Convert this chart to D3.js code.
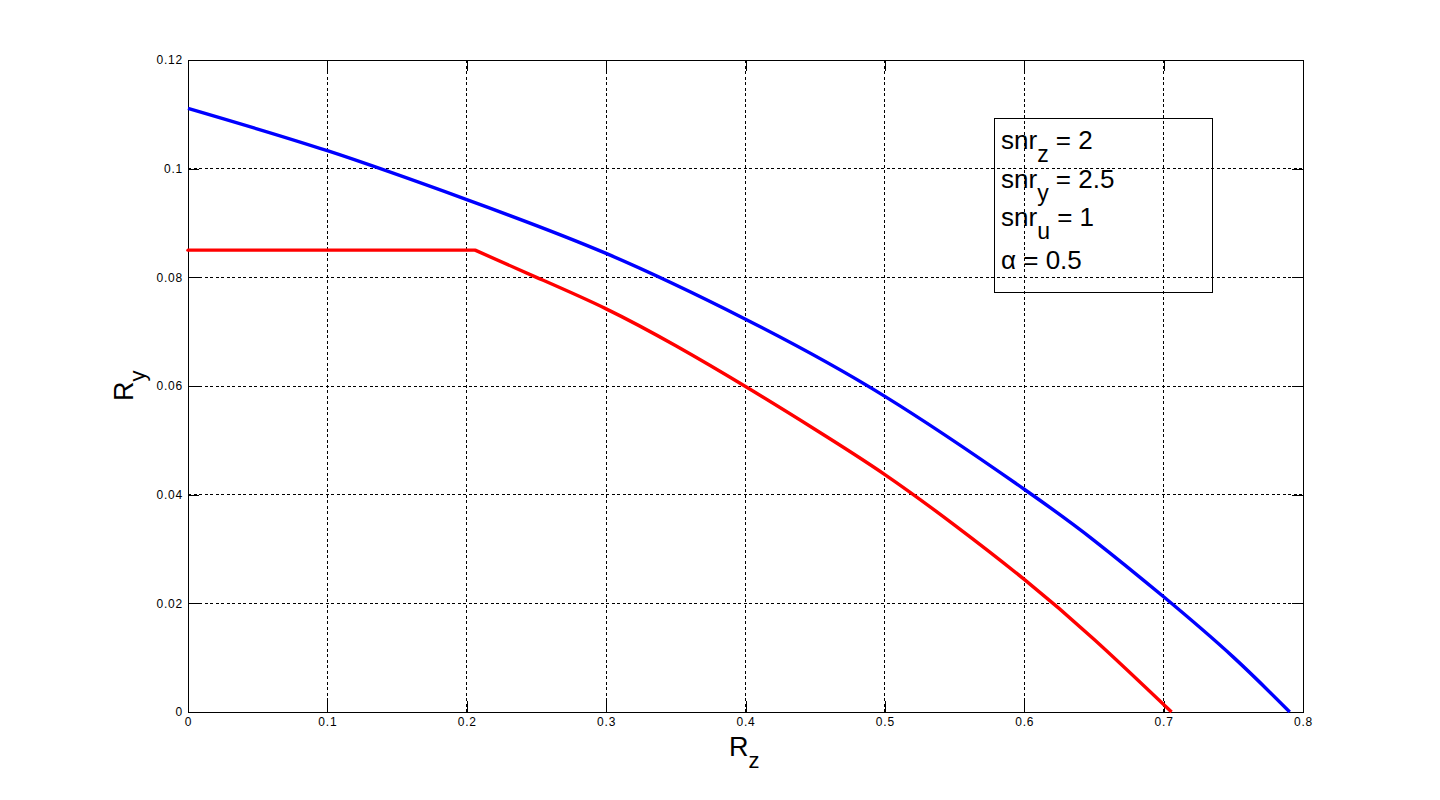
<!DOCTYPE html>
<html>
<head>
<meta charset="utf-8">
<script src="https://cdn.jsdelivr.net/npm/d3@7/dist/d3.min.js"></script>
<style>
  html, body { margin: 0; padding: 0; background: #ffffff; }
  svg { display: block; }
  text { font-family: Arial, "Liberation Sans", sans-serif; fill: #000; }
</style>
</head>
<body>
<svg id="chart" width="1440" height="800"></svg>
<script>
// ---- data ----
const blueRz = [0, 0.1, 0.2, 0.3, 0.4, 0.5, 0.6, 0.65, 0.7, 0.75, 0.7905];
const blueRy = [0.1111, 0.1033, 0.0943, 0.0844, 0.0723, 0.0581, 0.0410, 0.0316, 0.0212, 0.0101, 0];

// red: flat part then curved part starting at the kink
const redFlatRz = [0, 0.206];
const redFlatRy = [0.085, 0.085];
const redRz = [0.206, 0.25, 0.3, 0.35, 0.4, 0.45, 0.5, 0.55, 0.6, 0.65, 0.7057];
const redRy = [0.085, 0.0800, 0.0742, 0.0674, 0.0599, 0.0520, 0.0437, 0.0344, 0.0244, 0.0134, 0];

const xTicks = [0, 0.1, 0.2, 0.3, 0.4, 0.5, 0.6, 0.7, 0.8];
const xTickLabels = ["0", "0.1", "0.2", "0.3", "0.4", "0.5", "0.6", "0.7", "0.8"];
const yTicks = [0, 0.02, 0.04, 0.06, 0.08, 0.1, 0.12];
const yTickLabels = ["0", "0.02", "0.04", "0.06", "0.08", "0.1", "0.12"];

const legendLines = [
  { main: "snr", sub: "z", rest: " = 2" },
  { main: "snr", sub: "y", rest: " = 2.5" },
  { main: "snr", sub: "u", rest: " = 1" },
  { main: "\u03B1 = 0.5", sub: "", rest: "" }
];

// ---- layout ----
const L = 188, R = 1303, T = 60, B = 712;
const svg = d3.select("#chart");
const x = d3.scaleLinear().domain([0, 0.8]).range([L, R]);
const y = d3.scaleLinear().domain([0, 0.12]).range([B, T]);

// grid
const grid = svg.append("g");
grid.selectAll("line.gx").data(xTicks.slice(1, -1)).enter().append("line")
  .attr("x1", d => x(d)).attr("x2", d => x(d)).attr("y1", T).attr("y2", B)
  .attr("stroke", "#000").attr("stroke-width", 1).attr("stroke-dasharray", "3,2.5")
  .attr("shape-rendering", "crispEdges");
grid.selectAll("line.gy").data(yTicks.slice(1, -1)).enter().append("line")
  .attr("y1", d => y(d)).attr("y2", d => y(d)).attr("x1", L).attr("x2", R)
  .attr("stroke", "#000").attr("stroke-width", 1).attr("stroke-dasharray", "3,2.5")
  .attr("shape-rendering", "crispEdges");

// axes (MATLAB style: inward ticks on all sides)
const tickLen = 11;
const xAxisB = d3.axisBottom(x).tickValues(xTicks).tickSize(-tickLen).tickPadding(5)
  .tickFormat((d, i) => xTickLabels[i]);
const xAxisT = d3.axisTop(x).tickValues(xTicks).tickSize(-tickLen).tickFormat("");
const yAxisL = d3.axisLeft(y).tickValues(yTicks).tickSize(-tickLen).tickPadding(5)
  .tickFormat((d, i) => yTickLabels[i]);
const yAxisR = d3.axisRight(y).tickValues(yTicks).tickSize(-tickLen).tickFormat("");

function styleAxis(g) {
  g.select(".domain").remove();
  g.selectAll(".tick line").attr("stroke", "#000").attr("shape-rendering", "crispEdges");
  g.selectAll(".tick text").attr("fill", "#000")
    .style("font-family", "Arial, 'Liberation Sans', sans-serif").style("font-size", "12px")
    .style("letter-spacing", "0.8px");
}
svg.append("g").attr("transform", `translate(0,${B})`).call(xAxisB).call(styleAxis);
svg.append("g").attr("transform", `translate(0,${T})`).call(xAxisT).call(styleAxis);
svg.append("g").attr("transform", `translate(${L},0)`).call(yAxisL).call(styleAxis);
svg.append("g").attr("transform", `translate(${R},0)`).call(yAxisR).call(styleAxis);

// box
svg.append("rect").attr("x", L).attr("y", T).attr("width", R - L).attr("height", B - T)
  .attr("fill", "none").attr("stroke", "#000").attr("stroke-width", 1)
  .attr("shape-rendering", "crispEdges");

// lines
const curveLine = d3.line().x(d => x(d[0])).y(d => y(d[1])).curve(d3.curveNatural);
const straightLine = d3.line().x(d => x(d[0])).y(d => y(d[1]));
const blueData = blueRz.map((v, i) => [v, blueRy[i]]);
const redFlat = redFlatRz.map((v, i) => [v, redFlatRy[i]]);
const redData = redRz.map((v, i) => [v, redRy[i]]);
svg.append("path").datum(blueData).attr("d", curveLine)
  .attr("fill", "none").attr("stroke", "#0000ff").attr("stroke-width", 3.4).attr("stroke-linejoin", "round");
svg.append("path").datum(redFlat).attr("d", straightLine)
  .attr("fill", "none").attr("stroke", "#ff0000").attr("stroke-width", 3.4).attr("stroke-linecap", "round");
svg.append("path").datum(redData).attr("d", curveLine)
  .attr("fill", "none").attr("stroke", "#ff0000").attr("stroke-width", 3.4).attr("stroke-linejoin", "round");

// axis labels
const xl = svg.append("text").attr("x", 729).attr("y", 756).style("font-size", "27px");
xl.append("tspan").text("R");
xl.append("tspan").attr("dy", 12).style("font-size", "22px").text("z");

const yl = svg.append("text").attr("transform", "translate(133,401) rotate(-90)").style("font-size", "27px");
yl.append("tspan").text("R");
yl.append("tspan").attr("dy", 12).style("font-size", "22px").text("y");

// legend annotation box
svg.append("rect").attr("x", 994).attr("y", 118).attr("width", 218).attr("height", 174)
  .attr("fill", "none").attr("stroke", "#000").attr("stroke-width", 1)
  .attr("shape-rendering", "crispEdges");
const baselines = [149, 188, 226, 269];
legendLines.forEach((ln, i) => {
  const t = svg.append("text").attr("x", 1001).attr("y", baselines[i]).style("font-size", "26px");
  t.append("tspan").text(ln.main);
  if (ln.sub) {
    t.append("tspan").attr("dy", 13).style("font-size", "23px").text(ln.sub);
    t.append("tspan").attr("dy", -13).text(ln.rest);
  }
});
</script>
</body>
</html>
